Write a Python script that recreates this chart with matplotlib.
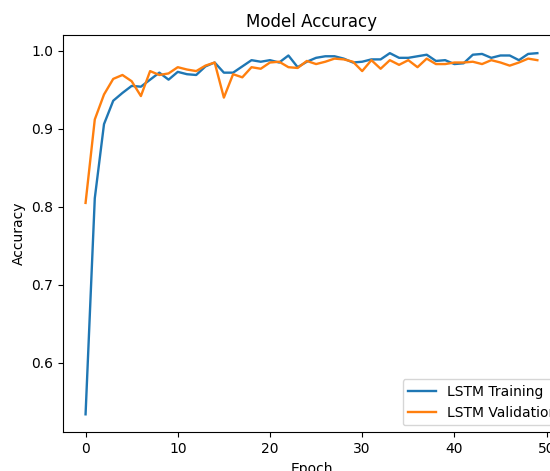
import numpy as np
import matplotlib
matplotlib.use("Agg")
import matplotlib.pyplot as plt

# accuracy per epoch
train_acc = [0.534, 0.811, 0.906, 0.936, 0.946, 0.955, 0.954, 0.963, 0.972, 0.963,
             0.973, 0.970, 0.969, 0.980, 0.985, 0.972, 0.972, 0.980, 0.988, 0.986,
             0.988, 0.985, 0.994, 0.979, 0.986, 0.991, 0.993, 0.993, 0.990, 0.985,
             0.986, 0.989, 0.989, 0.997, 0.991, 0.991, 0.993, 0.995, 0.987, 0.988,
             0.983, 0.984, 0.995, 0.996, 0.991, 0.994, 0.994, 0.988, 0.996, 0.997]
val_acc = [0.805, 0.912, 0.944, 0.964, 0.969, 0.961, 0.942, 0.974, 0.969, 0.971,
           0.979, 0.976, 0.974, 0.981, 0.985, 0.940, 0.970, 0.966, 0.979, 0.977,
           0.985, 0.986, 0.979, 0.978, 0.987, 0.983, 0.986, 0.990, 0.989, 0.986,
           0.974, 0.988, 0.977, 0.988, 0.982, 0.988, 0.979, 0.990, 0.983, 0.983,
           0.985, 0.985, 0.986, 0.983, 0.988, 0.985, 0.981, 0.985, 0.990, 0.988]
epochs = np.arange(len(train_acc))

fig = plt.figure(figsize=(5.5, 4.71), dpi=100)
# axes run past the right edge, like the cropped screenshot
ax = fig.add_axes([0.1145, 0.082, 0.9036, 0.8435])

ax.plot(epochs, train_acc, label='LSTM Training', lw=1.7)
ax.plot(epochs, val_acc, label='LSTM Validation', lw=1.7)
ax.set_title('Model Accuracy')
ax.set_xlabel('Epoch')
ax.set_ylabel('Accuracy')
ax.legend(loc='lower right', bbox_to_anchor=(1.02, 0))

fig.savefig('out.png', dpi=100)
